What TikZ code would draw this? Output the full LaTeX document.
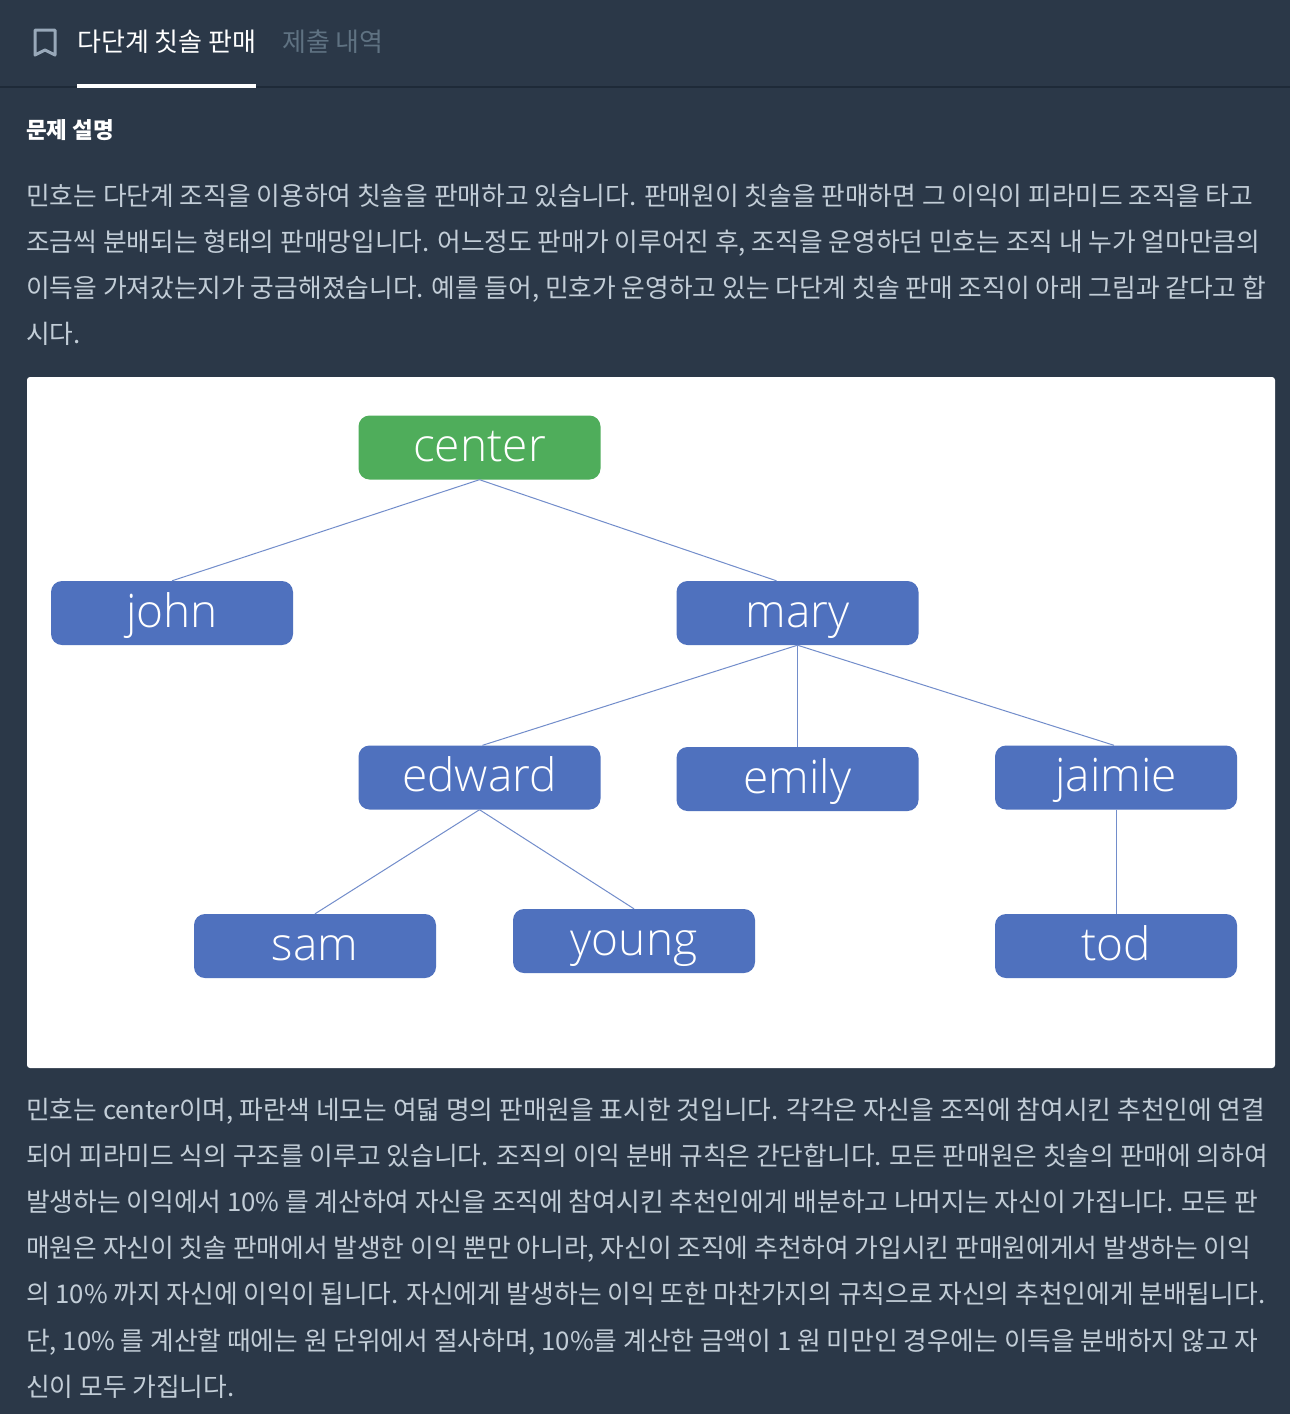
\documentclass[tikz,border=0pt]{standalone}
\usepackage{fontspec}
\setmainfont{Noto Sans CJK KR}
\newfontfamily\labelfont{Open Sans Light}
\usetikzlibrary{arrows.meta,calc,positioning}
\definecolor{pagebg}{HTML}{2B3848}
\definecolor{bodytext}{HTML}{C2CDD7}
\definecolor{seller}{HTML}{4F71BE}
\definecolor{rootfill}{HTML}{4FAD5B}
\definecolor{mutedtab}{HTML}{5F7282}
\definecolor{markgrey}{HTML}{98A8B9}
\definecolor{rulecol}{HTML}{1E2A38}
\tikzset{
  member/.style={
    rounded corners=11pt,
    fill=seller,
    text=white,
    font=\labelfont\fontsize{46}{46}\selectfont,
    minimum width=242pt,
    minimum height=64pt,
    text height=38pt,
    text depth=10pt,
    inner sep=0pt
  },
  rootbox/.style={member, fill=rootfill},
  treeedge/.style={line width=1pt, draw=seller!80},
  bodyline/.style={font=\fontsize{25.75}{25.75}\selectfont, text=bodytext, anchor=base west, inner sep=0pt},
  tabon/.style={font=\fontsize{26}{26}\selectfont, text=white, anchor=base west, inner sep=0pt},
  taboff/.style={font=\fontsize{26}{26}\selectfont, text=mutedtab, anchor=base west, inner sep=0pt},
  heading/.style={font=\bfseries\fontsize{22.5}{22.5}\selectfont, text=white, anchor=base west, inner sep=0pt}
}

\begin{document}
\begin{tikzpicture}[x=1pt,y=-1pt]
\path[use as bounding box, fill=pagebg] (0,0) rectangle (1290,1414);

% header
\draw[rulecol, line width=1.2pt] (0,87) -- (1290,87);
\fill[white] (77,84) rectangle (256,88);
\draw[markgrey, line width=3pt, line join=round] (35,30) -- (55,30) -- (55,55) -- (45,50) -- (35,55) -- cycle;
\node[tabon] (tabsale) at (77,51) {다단계 칫솔 판매};
\node[taboff] (tabhistory) at (282,51) {제출 내역};
\node[heading] (problem) at (26,138) {문제 설명};

% upper text
\node[bodyline] (upa) at (26,205) {민호는 다단계 조직을 이용하여 칫솔을 판매하고 있습니다. 판매원이 칫솔을 판매하면 그 이익이 피라미드 조직을 타고};
\node[bodyline] (upb) at (26,251) {조금씩 분배되는 형태의 판매망입니다. 어느정도 판매가 이루어진 후, 조직을 운영하던 민호는 조직 내 누가 얼마만큼의};
\node[bodyline] (upc) at (26,297) {이득을 가져갔는지가 궁금해졌습니다. 예를 들어, 민호가 운영하고 있는 다단계 칫솔 판매 조직이 아래 그림과 같다고 합};
\node[bodyline] (upd) at (26,343) {시다.};

% tree
\fill[white, rounded corners=3pt] (27,377) rectangle (1275,1068);
\node[rootbox] (center) at (479.5,447.5) {center};
\node[member] (john) at (172,613) {john};
\node[member] (mary) at (797.5,613) {mary};
\node[member] (edward) at (479.5,777.5) {edward};
\node[member] (emily) at (797.5,779) {emily};
\node[member] (jaimie) at (1116,777.5) {jaimie};
\node[member] (sam) at (315,946) {sam};
\node[member] (young) at (634,941) {young};
\node[member] (tod) at (1116,946) {tod};

\draw[treeedge] (center.south) -- (john.north);
\draw[treeedge] (center.south) -- ([xshift=-21pt]mary.north);
\draw[treeedge] (mary.south) -- ([xshift=3pt]edward.north);
\draw[treeedge] (mary.south) -- (emily.north);
\draw[treeedge] (mary.south) -- ([xshift=-2pt]jaimie.north);
\draw[treeedge] (edward.south) -- (sam.north);
\draw[treeedge] (edward.south) -- (young.north);
\draw[treeedge] (jaimie.south) -- (tod.north);

% lower text
\node[bodyline] (loa) at (26,1119) {민호는 center이며, 파란색 네모는 여덟 명의 판매원을 표시한 것입니다. 각각은 자신을 조직에 참여시킨 추천인에 연결};
\node[bodyline] (lob) at (26,1165) {되어 피라미드 식의 구조를 이루고 있습니다. 조직의 이익 분배 규칙은 간단합니다. 모든 판매원은 칫솔의 판매에 의하여};
\node[bodyline] (loc) at (26,1211) {발생하는 이익에서 10\% 를 계산하여 자신을 조직에 참여시킨 추천인에게 배분하고 나머지는 자신이 가집니다. 모든 판};
\node[bodyline] (lod) at (26,1257) {매원은 자신이 칫솔 판매에서 발생한 이익 뿐만 아니라, 자신이 조직에 추천하여 가입시킨 판매원에게서 발생하는 이익};
\node[bodyline] (loe) at (26,1303) {의 10\% 까지 자신에 이익이 됩니다. 자신에게 발생하는 이익 또한 마찬가지의 규칙으로 자신의 추천인에게 분배됩니다.};
\node[bodyline] (lof) at (26,1350) {단, 10\% 를 계산할 때에는 원 단위에서 절사하며, 10\%를 계산한 금액이 1 원 미만인 경우에는 이득을 분배하지 않고 자};
\node[bodyline] (log) at (26,1396) {신이 모두 가집니다.};
\end{tikzpicture}
\end{document}
